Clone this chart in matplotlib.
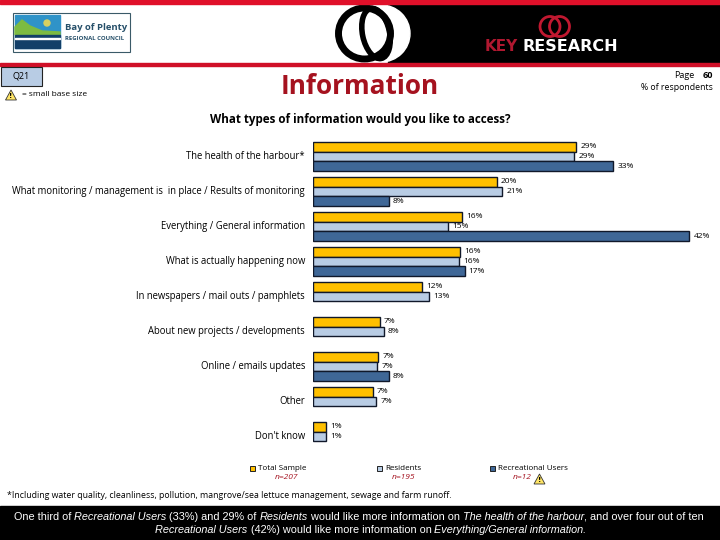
import matplotlib
matplotlib.use('Agg')
import matplotlib.pyplot as plt
from matplotlib.patches import Rectangle, Circle, Ellipse, Polygon

# --- Datos ---
categorias = ['The health of the harbour*',
              'What monitoring / management is  in place / Results of monitoring',
              'Everything / General information',
              'What is actually happening now',
              'In newspapers / mail outs / pamphlets',
              'About new projects / developments',
              'Online / emails updates',
              'Other',
              "Don't know"]
# largos
total_sample = [29.2, 20.4, 16.5, 16.3, 12.1, 7.4, 7.2, 6.6, 1.4]
residents = [29.0, 21.0, 15.0, 16.2, 12.9, 7.8, 7.1, 7.0, 1.4]
recreational = [33.3, 8.4, 41.8, 16.8, None, None, 8.4, None, None]
# etiquetas tal como aparecen
etq_total = ['29%', '20%', '16%', '16%', '12%', '7%', '7%', '7%', '1%']
etq_residents = ['29%', '21%', '15%', '16%', '13%', '8%', '7%', '7%', '1%']
etq_recreational = ['33%', '8%', '42%', '17%', None, None, '8%', None, None]

nombres_serie = ['Total Sample', 'Residents', 'Recreational Users']
bases = ['n=207', 'n=195', 'n=12']
colores = ['#FFC000', '#B8CCE4', '#3F6797']

FUENTE = 'Open Sans'
ROJO = '#A5121F'

fig = plt.figure(figsize=(7.2, 5.4), dpi=100)

# capa de fondo en pixeles, para cabecera y pie
fondo = fig.add_axes([0, 0, 1, 1])
fondo.set_xlim(0, 720)
fondo.set_ylim(540, 0)
fondo.axis('off')

# --- Cabecera ---
fondo.add_patch(Rectangle((388, 4), 332, 59, color='black'))
fondo.add_patch(Ellipse((381, 33.5), 58, 57, color='white'))
fondo.add_patch(Ellipse((364.5, 33.5), 52, 51, fill=False, ec='black', lw=5))
fondo.add_patch(Ellipse((376, 33.5), 27, 51, angle=-12, fill=False, ec='black', lw=4))
fondo.add_patch(Rectangle((0, 0), 720, 4, color='#E0102A'))
fondo.add_patch(Rectangle((0, 63), 720, 2.5, color='#D01028'))

# logo Bay of Plenty
fondo.add_patch(Rectangle((12.5, 12.5), 117, 39, fc='white', ec='#3A5A68', lw=0.8))
fondo.add_patch(Rectangle((15, 15), 45, 33, color='#2F93C8'))
fondo.add_patch(Polygon([(15, 35), (15, 27), (22, 20), (30, 26), (42, 31), (60, 32), (60, 35)],
                        color='#7DBB42'))
fondo.add_patch(Rectangle((15, 35), 45, 13, color='#123F68'))
fondo.add_patch(Rectangle((15, 37.5), 45, 1.5, color='white'))
fondo.add_patch(Circle((47, 23), 3, color='#D8D060'))
fondo.text(65, 27.5, 'Bay of Plenty', fontsize=6.8, fontweight='bold', color='#27506A',
           family=FUENTE, va='center')
fondo.text(65, 38.5, 'REGIONAL COUNCIL', fontsize=4.3, fontweight='bold', color='#27506A',
           family=FUENTE, va='center')

# logo Key Research
fondo.add_patch(Circle((550, 26.5), 10, fill=False, ec='#C01830', lw=2))
fondo.add_patch(Circle((559.5, 26.5), 10, fill=False, ec='#C01830', lw=2))
fondo.text(485, 46.5, 'KEY', fontsize=11, fontweight='bold', color='#B01830',
           family='DejaVu Sans', va='center')
fondo.text(522, 46.5, 'RESEARCH', fontsize=11.5, fontweight='bold', color='white',
           family='DejaVu Sans', va='center')


def triangulo(x, y):
    fondo.add_patch(Polygon([(x - 5.5, y + 5), (x, y - 5), (x + 5.5, y + 5)],
                            fc='#FFE566', ec='#333333', lw=0.6))
    fondo.text(x, y + 1, '!', fontsize=5, fontweight='bold', ha='center', va='center')


# --- Textos superiores ---
fondo.add_patch(Rectangle((1, 66.5), 41, 19, fc='#B8CCE4', ec='#222222', lw=0.8))
fondo.text(21, 76, 'Q21', fontsize=6.5, family=FUENTE, ha='center', va='center')
triangulo(11, 95)
fondo.text(22, 94, '= small base size', fontsize=6, family=FUENTE, va='center')
fondo.text(360, 86, 'Information', fontsize=18.8, fontweight='bold', color=ROJO,
           family=FUENTE, ha='center', va='center')
fondo.text(694, 76, 'Page', fontsize=6.5, family=FUENTE, ha='right', va='center')
fondo.text(713, 76, '60', fontsize=6.5, fontweight='bold', family=FUENTE, ha='right', va='center')
fondo.text(713, 88, '% of respondents', fontsize=6.3, family=FUENTE, ha='right', va='center')
fondo.text(360, 120, 'What types of information would you like to access?', fontsize=8.4,
           fontweight='bold', family=FUENTE, ha='center', va='center')

# --- Barras ---
ax = fig.add_axes([313.3 / 720, 1 - 454 / 540, 378 / 720, 315 / 540])
ax.set_xlim(0, 42)
ax.set_ylim(8.5, -0.5)
ax.axis('off')
ax.patch.set_alpha(0)

alto = 0.278
series = [(total_sample, etq_total), (residents, etq_residents), (recreational, etq_recreational)]
for i, (valores, etiquetas) in enumerate(series):
    for j, v in enumerate(valores):
        if v is None:
            continue
        y = j + (i - 1) * alto
        ax.barh(y, v, height=alto, color=colores[i], edgecolor='#10182A', linewidth=1)
        ax.annotate(etiquetas[j], (v, y), xytext=(3, 0), textcoords='offset points',
                    fontsize=6, family=FUENTE, va='center', annotation_clip=False)

for j, nombre in enumerate(categorias):
    ax.annotate(nombre, (0, j), xytext=(-6, 0), textcoords='offset points', fontsize=6.85,
                family=FUENTE, ha='right', va='center', annotation_clip=False)

# --- Leyenda ---
x_cuadro = [250, 377, 490]
x_base = [287, 404, 522]
for i in range(3):
    fondo.add_patch(Rectangle((x_cuadro[i], 466), 5, 5, fc=colores[i], ec='#222222', lw=0.7))
    fondo.text(x_cuadro[i] + 8, 469, nombres_serie[i], fontsize=5.8, family=FUENTE, va='center')
    fondo.text(x_base[i], 477.5, bases[i], fontsize=6, style='italic', color=ROJO,
               family=FUENTE, ha='center', va='center')
triangulo(539.5, 479)

fondo.text(7, 495.5, '*Including water quality, cleanliness, pollution, mangrove/sea lettuce '
           'management, sewage and farm runoff.', fontsize=6.3, family=FUENTE, va='center')

# --- Franja inferior ---
fondo.add_patch(Rectangle((0, 506), 720, 34, color='black'))


def linea_mixta(partes, y, centro):
    # escribe trozos normales y en cursiva, centrados en la linea
    render = fig.canvas.get_renderer()
    textos = []
    for cadena, estilo in partes:
        textos.append(fondo.text(0, y, cadena, fontsize=7.85, color='white', style=estilo,
                                 family='Liberation Sans', va='center'))
    anchos = [t.get_window_extent(render).width for t in textos]
    x = centro - sum(anchos) / 2
    for t, w in zip(textos, anchos):
        t.set_x(x)
        x += w


linea_mixta([('One third of ', 'normal'), ('Recreational Users', 'italic'),
             (' (33%) and 29% of ', 'normal'), ('Residents', 'italic'),
             (' would like more information on ', 'normal'), ('The health of the harbour', 'italic'),
             (', and over four out of ten', 'normal')], 516.5, 359)
linea_mixta([('Recreational Users', 'italic'), (' (42%) would like more information on ', 'normal'),
             ('Everything/General information.', 'italic')], 530, 371)

fig.savefig('out.png', dpi=100)
